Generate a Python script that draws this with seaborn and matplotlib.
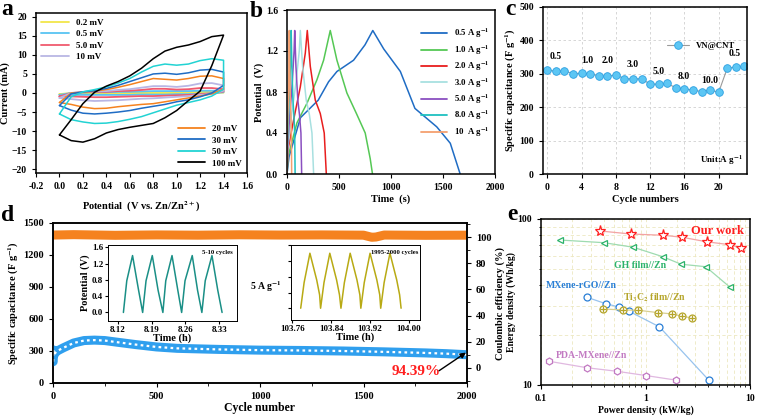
import matplotlib
matplotlib.use("Agg")
import numpy as np
import pandas as pd
import seaborn as sns
import matplotlib.pyplot as plt
from matplotlib.lines import Line2D
from matplotlib.ticker import MultipleLocator, NullFormatter

# ---------------- data ----------------
# a: CV loops, anodic values at cv_E (0 -> 1.4 V), cathodic values at cv_E reversed (1.4 -> 0 V)
cv_E = [0.0, 0.1, 0.2, 0.3, 0.4, 0.5, 0.6, 0.7, 0.8, 0.9, 1.0, 1.1, 1.2, 1.3, 1.4]
cv_rates = ["0.2 mV", "0.5 mV", "5.0 mV", "10 mV", "20 mV", "30 mV", "50 mV", "100 mV"]
cv_anodic = [
    [-0.3, 0.0, 0.05, 0.1, 0.1, 0.15, 0.2, 0.2, 0.25, 0.25, 0.25, 0.25, 0.3, 0.3, 0.25],
    [-0.5, 0.0, 0.1, 0.2, 0.2, 0.3, 0.3, 0.4, 0.5, 0.5, 0.5, 0.5, 0.6, 0.6, 0.5],
    [-0.9, 0.0, 0.2, 0.3, 0.3, 0.5, 0.6, 0.8, 1.1, 1.1, 0.9, 1.0, 1.3, 1.3, 1.0],
    [-1.3, 0.0, 0.3, 0.4, 0.5, 0.8, 1.0, 1.4, 1.8, 1.8, 1.6, 1.9, 2.5, 2.6, 2.0],
    [-2.5, 0.0, 0.2, 0.5, 0.9, 1.5, 2.2, 3.0, 3.8, 3.6, 3.4, 3.8, 4.4, 4.5, 3.8],
    [-3.3, -0.2, 0.3, 0.6, 1.2, 2.0, 3.0, 4.0, 5.0, 5.2, 4.9, 5.3, 6.0, 6.2, 5.5],
    [-5.5, -1.0, 0.3, 0.9, 1.6, 2.6, 3.8, 5.5, 7.0, 7.6, 7.3, 7.6, 8.5, 9.0, 8.6],
    [-11.0, -7.0, -2.8, 0.2, 1.8, 3.0, 4.5, 6.5, 9.0, 11.0, 12.0, 12.6, 13.5, 14.8, 15.2],
]
cv_cathodic = [
    [0.1, -0.05, -0.1, -0.15, -0.15, -0.2, -0.2, -0.2, -0.25, -0.25, -0.25, -0.25, -0.25, -0.25, -0.3],
    [0.2, -0.1, -0.2, -0.3, -0.3, -0.4, -0.4, -0.4, -0.5, -0.5, -0.5, -0.5, -0.5, -0.5, -0.5],
    [0.4, -0.1, -0.3, -0.5, -0.6, -0.7, -0.8, -0.8, -0.9, -1.0, -1.1, -1.1, -1.0, -0.9, -0.9],
    [0.6, -0.3, -0.5, -0.8, -1.0, -1.2, -1.4, -1.5, -1.7, -1.9, -2.0, -2.1, -1.9, -1.6, -1.3],
    [1.0, -0.2, -0.8, -1.3, -1.8, -2.3, -2.8, -3.0, -3.3, -3.6, -4.0, -4.1, -3.7, -3.0, -2.5],
    [2.0, 0.0, -1.0, -1.8, -2.3, -3.0, -3.5, -4.0, -4.6, -5.0, -5.3, -5.5, -5.3, -4.5, -3.3],
    [1.0, -0.8, -1.8, -2.5, -3.2, -4.2, -5.2, -6.2, -6.9, -7.5, -7.9, -8.0, -7.6, -7.0, -5.5],
    [15.2, 7.2, 0.5, -2.0, -4.6, -6.5, -8.0, -8.5, -9.0, -9.6, -10.5, -12.0, -12.9, -12.5, -11.0],
]
cv_colors = ["#f2e64a", "#58c4f2", "#f05a6e", "#b9b6e4", "#f5821f", "#1f6cc4", "#22d3d3", "#000000"]

# b: GCD curves
gcd_labels = ["0.5 A g$^{-1}$", "1.0 A g$^{-1}$", "2.0 A g$^{-1}$", "3.0 A g$^{-1}$",
              "5.0 A g$^{-1}$", "8.0 A g$^{-1}$", "10  A g$^{-1}$"]
gcd_t = [
    [0, 20, 130, 300, 400, 480, 640, 750, 825, 930, 1090, 1230, 1440, 1570, 1665],
    [0, 10, 96, 192, 288, 352, 416, 480, 576, 672, 752, 800, 822],
    [0, 10, 64, 128, 176, 195, 224, 272, 320, 358, 378],
    [0, 8, 40, 85, 118, 128, 150, 185, 215, 240, 256],
    [0, 5, 25, 50, 68, 74, 86, 104, 120, 134, 141],
    [0, 3, 14, 28, 36, 40, 47, 57, 66, 74, 78],
    [0, 2, 8, 16, 20, 22, 26, 32, 37, 42, 45],
]
gcd_v = [
    [0.0, 0.17, 0.55, 0.72, 0.90, 1.00, 1.11, 1.26, 1.40, 1.22, 1.00, 0.64, 0.46, 0.30, 0.0],
    [0.0, 0.17, 0.50, 0.69, 0.92, 1.11, 1.40, 1.11, 0.79, 0.58, 0.40, 0.15, 0.0],
    [0.0, 0.24, 0.53, 0.85, 1.18, 1.40, 1.05, 0.72, 0.59, 0.40, 0.0],
    [0.0, 0.25, 0.55, 0.88, 1.20, 1.40, 1.05, 0.72, 0.58, 0.40, 0.0],
    [0.0, 0.25, 0.55, 0.88, 1.20, 1.40, 1.05, 0.72, 0.58, 0.40, 0.0],
    [0.0, 0.25, 0.55, 0.88, 1.20, 1.40, 1.05, 0.72, 0.58, 0.40, 0.0],
    [0.0, 0.25, 0.55, 0.88, 1.20, 1.40, 1.05, 0.72, 0.58, 0.40, 0.0],
]
gcd_colors = ["#1f6cc4", "#55c855", "#e81e1e", "#a8e0e0", "#8a4fc0", "#1fc0c0", "#f4a070"]

# c: rate performance
rate_cycle = list(range(24))
rate_cap = [312, 307, 309, 300, 302, 300, 294, 292, 297, 285, 285, 285,
            269, 269, 271, 258, 255, 251, 247, 251, 245, 317, 320, 323]
rate_labels = ["0.5", "1.0", "2.0", "3.0", "5.0", "8.0", "10.0", "0.5"]
rate_label_x = [1.0, 4.7, 7.0, 10.0, 13.0, 15.9, 19.0, 21.9]
rate_label_y = [337, 327, 327, 315, 293, 278, 266, 347]

# d: long cycling
cyc_n = [1, 2, 5, 10, 20, 50, 100, 150, 200, 250, 300, 400, 500, 600, 800,
         1000, 1200, 1400, 1600, 1800, 1900, 2000]
cyc_cap = [200, 310, 262, 280, 300, 330, 375, 398, 402, 398, 385, 360, 338, 325, 315,
           308, 305, 300, 292, 282, 275, 265]
ce_n = [1, 100, 300, 500, 700, 900, 1100, 1300, 1500, 1540, 1560, 1600, 1800, 2000]
ce_val = [101.5, 101.8, 101.3, 101.6, 101.4, 101.7, 101.5, 101.6, 101.4, 99.8, 100.0, 101.5, 101.3, 101.4]
ins1_t = [8.131, 8.138, 8.150, 8.1625, 8.171,
          8.178, 8.191, 8.203, 8.213,
          8.219, 8.232, 8.244, 8.252,
          8.259, 8.274, 8.285, 8.294,
          8.301, 8.315, 8.327, 8.336]
ins1_v = [0.0, 0.78, 1.40, 0.55, 0.0,
          0.78, 1.40, 0.55, 0.0,
          0.78, 1.40, 0.55, 0.0,
          0.78, 1.40, 0.55, 0.0,
          0.78, 1.40, 0.55, 0.0]
ins2_t = [103.777, 103.784, 103.796, 103.810, 103.816, 103.818,
          103.825, 103.837, 103.851, 103.857, 103.860,
          103.867, 103.879, 103.893, 103.899, 103.901,
          103.908, 103.920, 103.934, 103.940, 103.942,
          103.949, 103.961, 103.975, 103.981, 103.984]
ins2_v = [0.0, 0.65, 1.40, 0.72, 0.34, 0.0,
          0.65, 1.40, 0.72, 0.34, 0.0,
          0.65, 1.40, 0.72, 0.34, 0.0,
          0.65, 1.40, 0.72, 0.34, 0.0,
          0.65, 1.40, 0.72, 0.34, 0.0]

# e: Ragone plot
rag_names = ["Our work", "GH film//Zn", "MXene-rGO//Zn", "Ti$_3$C$_2$ film//Zn", "PDA-MXene//Zn"]
rag_power = [
    [0.367, 0.726, 1.48, 2.25, 3.85, 6.43, 8.2],
    [0.152, 0.40, 0.764, 1.46, 2.19, 3.77, 6.44],
    [0.274, 0.416, 0.557, 0.690, 1.36, 4.03],
    [0.394, 0.614, 0.853, 1.31, 1.81, 2.24, 2.77],
    [0.119, 0.277, 0.530, 1.01, 1.96],
]
rag_energy = [
    [84.7, 81.2, 79.8, 77.6, 72.9, 70.0, 66.6],
    [74.7, 72.0, 67.6, 59.3, 53.4, 51.6, 38.8],
    [33.8, 30.9, 29.5, 27.9, 22.4, 10.7],
    [28.7, 28.3, 28.2, 27.3, 26.8, 25.9, 25.4],
    [13.9, 12.7, 12.1, 11.4, 10.7],
]
rag_label_x = [4.94, 0.885, 0.241, 1.23, 0.307]
rag_label_y = [84.7, 52.8, 39.5, 33.4, 14.96]
rag_colors = ["#ff1f1f", "#2cb36a", "#2a7fd6", "#b5a52a", "#c27ac2"]
rag_lines = ["#f3a3a3", "#9edbb0", "#97c3ee", "#d8cf90", "#e0b8e0"]
rag_markers = ["*", "<", "o", "o", "h"]

# ---------------- style ----------------
sns.set_style("ticks")
plt.rcParams['font.family'] = ['Liberation Serif', 'DejaVu Serif']
plt.rcParams['font.weight'] = 'bold'
plt.rcParams['axes.labelweight'] = 'bold'
plt.rcParams['mathtext.fontset'] = 'stix'
plt.rcParams['mathtext.default'] = 'bf'
plt.rcParams['axes.edgecolor'] = 'black'
plt.rcParams['axes.linewidth'] = 1.1
plt.rcParams['text.color'] = 'black'
plt.rcParams['axes.labelcolor'] = 'black'
plt.rcParams['xtick.color'] = 'black'
plt.rcParams['ytick.color'] = 'black'
plt.rcParams['xtick.labelsize'] = 7
plt.rcParams['ytick.labelsize'] = 7
plt.rcParams['axes.labelsize'] = 7.5
plt.rcParams['xtick.major.size'] = 3
plt.rcParams['ytick.major.size'] = 3
plt.rcParams['legend.frameon'] = False

fig = plt.figure(figsize=(7.57, 4.18), dpi=100)
W, H = 757, 418


def place(l, t, r, b):
    return fig.add_axes([l / W, 1 - b / H, (r - l) / W, (b - t) / H])


# ---------------- a ----------------
ax = place(36, 13, 247, 173)
handles = []
for k in range(len(cv_rates)):
    e = cv_E + cv_E[::-1] + [cv_E[0]]
    i = cv_anodic[k] + cv_cathodic[k] + [cv_anodic[k][0]]
    lw = 1.3 if k < 4 else 1.1
    sns.lineplot(x=e, y=i, sort=False, estimator=None, color=cv_colors[k], lw=lw, ax=ax)
    handles.append(Line2D([], [], color=cv_colors[k], lw=1.3, label=cv_rates[k]))
ax.set_xlim(-0.2, 1.6)
ax.set_ylim(-21, 21)
ax.set_xticks(np.arange(-0.2, 1.61, 0.2))
ax.set_xticklabels(["-0.2", "0.0", "0.2", "0.4", "0.6", "0.8", "1.0", "1.2", "1.4", "1.6"])
ax.set_yticks(range(-20, 21, 5))
ax.set_xlabel("Potential  (V vs. Zn/Zn$^{2+}$)", labelpad=6)
ax.set_ylabel("Current (mA)", labelpad=1)
leg1 = ax.legend(handles=handles[:4], loc="upper left", fontsize=6.5, handlelength=3,
                 labelspacing=0.35, borderaxespad=0.2)
ax.add_artist(leg1)
ax.legend(handles=handles[4:], loc="lower right", fontsize=6.5, handlelength=3,
          labelspacing=0.35, borderaxespad=0.2)

# ---------------- b ----------------
ax = place(287, 10, 495, 174)
handles = []
for k in range(len(gcd_labels)):
    sns.lineplot(x=gcd_t[k], y=gcd_v[k], sort=False, estimator=None, color=gcd_colors[k], lw=1.1, ax=ax)
    handles.append(Line2D([], [], color=gcd_colors[k], lw=1.3, label=gcd_labels[k]))
ax.set_xlim(0, 2000)
ax.set_ylim(0, 1.6)
ax.set_xticks(range(0, 2001, 500))
ax.set_yticks(np.arange(0, 1.61, 0.4))
ax.set_yticklabels(["0.0", "0.4", "0.8", "1.2", "1.6"])
ax.set_xlabel("Time  (s)", labelpad=2)
ax.set_ylabel("Potential  (V)", labelpad=1)
ax.legend(handles=handles, loc="upper right", bbox_to_anchor=(1.0, 0.93), fontsize=6.3,
          handlelength=3, labelspacing=0.35, borderaxespad=0.2)

# ---------------- c ----------------
ax = place(543, 7, 747, 174)
ax.grid(True, ls=(0, (3, 3)), color="#d0d0d0", lw=0.6)
ax.set_axisbelow(True)
sns.lineplot(x=rate_cycle, y=rate_cap, color="#9a9a9a", lw=0.8, marker="o", markersize=5.5,
             markerfacecolor="#5cc6f4", markeredgecolor="#2c9fe0", markeredgewidth=0.6,
             ax=ax, label="VN@CNT")
for s, x, y in zip(rate_labels, rate_label_x, rate_label_y):
    ax.text(x, y, s, ha="center", va="bottom", fontsize=7)
ax.text(0.98, 0.04, "Unit:A g$^{-1}$", transform=ax.transAxes, ha="right", va="bottom", fontsize=6.5)
ax.set_xlim(-0.5, 23.3)
ax.set_ylim(0, 500)
ax.set_xticks(range(0, 21, 4))
ax.set_yticks(range(0, 501, 100))
ax.set_xlabel("Cycle numbers", labelpad=2)
ax.set_ylabel("Specific capacitance (F g$^{-1}$)", labelpad=1)
ax.legend(loc="upper right", bbox_to_anchor=(0.98, 0.84), fontsize=6.3, handlelength=2.5)

# ---------------- d ----------------
ax = place(53, 223, 467, 383)
ax2 = ax.twinx()
sns.lineplot(x=ce_n, y=ce_val, color="#f5821f", lw=6.5, estimator=None, ax=ax2)
ax2.set_ylim(-11.5, 110.7)
ax2.set_yticks(range(0, 101, 20))
ax2.yaxis.set_minor_locator(MultipleLocator(10))
ax2.set_ylabel("Coulombic efficiency (%)", labelpad=3)
ax2.tick_params(axis="y", labelsize=7.5)
sns.lineplot(x=cyc_n, y=cyc_cap, color="#2f9fee", lw=6.5, estimator=None, ax=ax)
sns.lineplot(x=cyc_n, y=cyc_cap, color="white", lw=1.6, ls=(0, (1.2, 1.5)), estimator=None, ax=ax)
ax.set_xlim(0, 2000)
ax.set_ylim(0, 1500)
ax.set_xticks(range(0, 2001, 500))
ax.xaxis.set_minor_locator(MultipleLocator(250))
ax.set_yticks(range(0, 1501, 300))
ax.tick_params(labelsize=7.5)
ax.set_xlabel("Cycle number", fontsize=8.5, labelpad=1)
ax.set_ylabel("Specific capacitance (F g$^{-1}$)", fontsize=7.5, labelpad=2)
ax.text(1755, 112, "94.39%", color="#ff1f1f", fontsize=11, ha="center", va="center")
ax.annotate("", xy=(1995, 285), xytext=(1865, 115),
            arrowprops=dict(arrowstyle="-|>", color="black", lw=1.0, mutation_scale=8,
                            shrinkA=0, shrinkB=0))
ax.text(0.515, 0.605, "5 A g$^{-1}$", transform=ax.transAxes, ha="center", va="center", fontsize=7)
ax.set_zorder(ax2.get_zorder() + 1)
ax.patch.set_visible(False)

# insets
ins = place(108, 245, 237, 321)
sns.lineplot(x=ins1_t, y=ins1_v, sort=False, estimator=None, color="#1a8f86", lw=1.1, ax=ins)
ins.set_xlim(8.099, 8.367)
ins.set_ylim(-0.21, 1.66)
ins.set_xticks([8.12, 8.19, 8.26, 8.33])
ins.set_yticks([0.0, 0.4, 0.8, 1.2, 1.6])
ins.set_yticklabels(["0.0", "0.4", "0.8", "1.2", "1.6"])
ins.tick_params(labelsize=6.5, length=2, pad=1.5)
ins.set_xlabel("Time (h)", fontsize=7.5, labelpad=0)
ins.set_ylabel("Potential (V)", fontsize=7.5, labelpad=1)
ins.text(0.97, 0.93, "5-10 cycles", transform=ins.transAxes, ha="right", va="top", fontsize=4.8)
for sp in ins.spines.values():
    sp.set_linewidth(0.7)

ins = place(291, 245, 420, 320)
sns.lineplot(x=ins2_t, y=ins2_v, sort=False, estimator=None, color="#b8aa14", lw=1.1, ax=ins)
ins.set_xlim(103.757, 104.023)
ins.set_ylim(-0.3, 1.61)
ins.set_xticks([103.76, 103.84, 103.92, 104.00])
ins.set_xticklabels(["103.76", "103.84", "103.92", "104.00"])
ins.set_yticks([0.0, 0.4, 0.8, 1.2, 1.6])
ins.yaxis.set_major_formatter(NullFormatter())
ins.tick_params(labelsize=6.5, length=2, pad=1.5)
ins.set_xlabel("Time (h)", fontsize=7.5, labelpad=0)
ins.text(0.99, 0.93, "1995-2000 cycles", transform=ins.transAxes, ha="right", va="top", fontsize=4.8)
for sp in ins.spines.values():
    sp.set_linewidth(0.7)

# ---------------- e ----------------
ax = place(541, 219, 750, 385)
ax.set_xscale("log")
ax.set_yscale("log")
ax.grid(True, which="both", ls=(0, (4, 3)), color="#ece8c0", lw=0.6)
ax.set_axisbelow(True)
for k in range(len(rag_names)):
    sns.lineplot(x=rag_power[k], y=rag_energy[k], sort=False, estimator=None,
                 color=rag_lines[k], lw=0.9, ax=ax)
    ms = 8 if rag_markers[k] == "*" else 5
    ax.plot(rag_power[k], rag_energy[k], ls="none", marker=rag_markers[k], ms=ms,
            mfc="white", mec=rag_colors[k], mew=0.9)
    if k == 3:
        ax.plot(rag_power[k], rag_energy[k], ls="none", marker="+", ms=5,
                mec=rag_colors[k], mew=0.9)
    fs = 9 if k == 0 else 7
    ax.text(rag_label_x[k], rag_label_y[k], rag_names[k], color=rag_colors[k],
            fontsize=fs, ha="center", va="center")
ax.set_xlim(0.1, 10)
ax.set_ylim(10, 100)
ax.set_xticks([0.1, 1, 10])
ax.set_xticklabels(["0.1", "1", "10"])
ax.set_yticks([10, 100])
ax.set_yticklabels(["10", "100"])
ax.xaxis.set_minor_formatter(NullFormatter())
ax.yaxis.set_minor_formatter(NullFormatter())
ax.tick_params(which="minor", length=1.5)
ax.set_xlabel("Power density (kW/kg)", fontsize=7, labelpad=2)
ax.set_ylabel("Energy density (Wh/kg)", fontsize=7, labelpad=1)

# panel letters
for s, x, y in [("a", 1, 15), ("b", 250, 17), ("c", 505, 15), ("d", 1, 221), ("e", 507, 220)]:
    fig.text(x / W, 1 - y / H, s, fontsize=17, fontweight="bold", va="baseline")

fig.savefig("out.png", dpi=100)
